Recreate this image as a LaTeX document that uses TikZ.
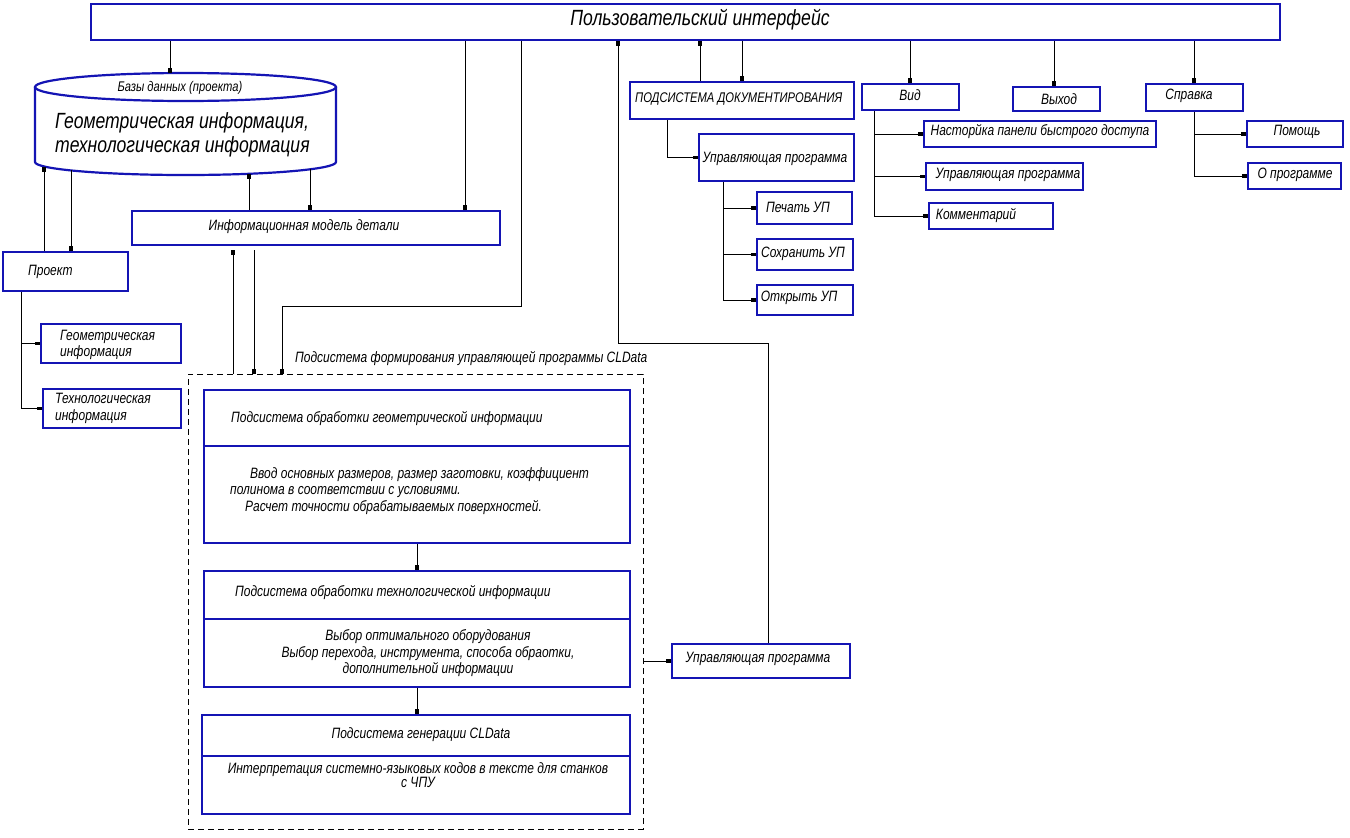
\documentclass[tikz,border=0pt]{standalone}
\usepackage{fontspec}
\newfontfamily\gost{Liberation Sans}[FakeStretch=0.8]
\usetikzlibrary{arrows.meta,calc}
\definecolor{boxblue}{RGB}{20,20,180}
\begin{document}
\begin{tikzpicture}[x=1pt,y=-1pt,
  box/.style={draw=boxblue, line width=2.2pt, inner sep=0pt},
  conn/.style={draw=black, line width=1pt},
  arr/.style={conn, -{Rectangle[length=5pt,width=3.5pt]}},
  txt/.style={font=\gost\itshape\fontsize{15}{16.5}\selectfont, inner sep=0pt},
  small/.style={font=\gost\itshape\fontsize{14}{16}\selectfont, inner sep=0pt},
]
\useasboundingbox[fill=white] (0,0) rectangle (1350,838);

% ---------- top bar ----------
\node[box, minimum width=1189, minimum height=36] (ui) at (685.5,22) {};
\node[txt, font=\gost\itshape\fontsize{22}{26}\selectfont] (uit) at (700,20) {Пользовательский интерфейс};

% ---------- database cylinder ----------
\draw[box] (185.5,87) ellipse[x radius=150.5pt, y radius=14pt];
\draw[box] (35,87) -- (35,162) arc[start angle=180, end angle=360, x radius=150.5pt, y radius=13pt] -- (336,87);
\node[inner sep=0pt, minimum width=301, minimum height=103] (db) at (185.5,124) {};
\node[small] (dbt) at (180,88) {Базы данных (проекта)};
\node[txt, font=\gost\itshape\fontsize{22}{24}\selectfont, align=left, anchor=west] (dbb) at (55,135)
  {Геометрическая информация,\\технологическая информация};
\coordinate (db1) at (170,73);
\coordinate (db2) at (44,167);
\coordinate (db3) at (71,170);
\coordinate (db4) at (249,174);
\coordinate (db5) at (310,169);

% ---------- left boxes ----------
\node[box, minimum width=125, minimum height=39] (proj) at (65.5,271.5) {};
\node[txt, anchor=west] (projt) at (28,272) {Проект};
\node[box, minimum width=140, minimum height=39] (geo) at (111,343.5) {};
\node[txt, align=left, anchor=west] (geot) at (60,345) {Геометрическая\\информация};
\node[box, minimum width=138, minimum height=39] (teh) at (112,408.5) {};
\node[txt, align=left, anchor=west] (teht) at (55,408.5) {Технологическая\\информация};

\node[box, minimum width=368, minimum height=34] (im) at (316,228) {};
\node[txt] (imt) at (304,227) {Информационная модель детали};

% ---------- documentation subsystem ----------
\node[box, minimum width=224, minimum height=37] (doc) at (742,100.5) {};
\node[small, anchor=west] (doct) at (635,99) {ПОДСИСТЕМА ДОКУМЕНТИРОВАНИЯ};
\node[box, minimum width=155, minimum height=47] (dup) at (776.5,157.5) {};
\node[txt] (dupt) at (775,159) {Управляющая программа};
\node[box, minimum width=95, minimum height=32] (pec) at (804.5,208) {};
\node[txt] (pect) at (798,207) {Печать УП};
\node[box, minimum width=96, minimum height=31] (sav) at (805,254.5) {};
\node[txt] (savt) at (803,254) {Сохранить УП};
\node[box, minimum width=96, minimum height=30] (opn) at (805,300) {};
\node[txt] (opnt) at (799,298) {Открыть УП};

% ---------- menus ----------
\node[box, minimum width=97, minimum height=26] (vid) at (910.5,97) {};
\node[txt] (vidt) at (910,95) {Вид};
\node[box, minimum width=87, minimum height=24] (vyh) at (1056.5,99) {};
\node[txt] (vyht) at (1059,99) {Выход};
\node[box, minimum width=97, minimum height=27] (spr) at (1194.5,97.5) {};
\node[txt] (sprt) at (1189,96) {Справка};

\node[box, minimum width=232, minimum height=26] (nas) at (1040,134) {};
\node[txt] (nast) at (1040,132) {Насторйка панели быстрого доступа};
\node[box, minimum width=157, minimum height=27] (vup) at (1004.5,176.5) {};
\node[txt] (vupt) at (1008,175) {Управляющая программа};
\node[box, minimum width=124, minimum height=26] (kom) at (991,216) {};
\node[txt] (komt) at (976,216) {Комментарий};

\node[box, minimum width=96, minimum height=26] (pom) at (1295,134) {};
\node[txt] (pomt) at (1297,132) {Помощь};
\node[box, minimum width=93, minimum height=26] (opr) at (1294.5,176) {};
\node[txt] (oprt) at (1295,175) {О программе};

% ---------- CLData subsystem ----------
\node[draw=black, line width=1pt, dash pattern=on 6pt off 4pt, minimum width=455, minimum height=455, inner sep=0pt] (cl) at (415.5,601.5) {};
\node[txt, anchor=west] (clt) at (295,359) {Подсистема формирования управляющей программы CLData};

\node[box, minimum width=426, minimum height=153] (b1) at (417,466.5) {};
\coordinate (d1) at (0,446);
\draw[box] (b1.west |- d1) -- (b1.east |- d1);
\node[txt, anchor=west] (b1t) at (231,419) {Подсистема обработки геометрической информации};
\node[txt, align=left, anchor=west] (b1b) at (230,491)
  {\hspace*{20pt}Ввод основных размеров, размер заготовки, коэффициент\\полинома в соответствии с условиями.\\\hspace*{15pt}Расчет точности обрабатываемых поверхностей.};

\node[box, minimum width=426, minimum height=116] (b2) at (417,629) {};
\coordinate (d2) at (0,619);
\draw[box] (b2.west |- d2) -- (b2.east |- d2);
\node[txt, anchor=west] (b2t) at (235,593) {Подсистема обработки технологической информации};
\node[txt, align=center] (b2b) at (428,653.5)
  {Выбор оптимального оборудования\\Выбор перехода, инструмента, способа обраотки,\\дополнительной информации};

\node[box, minimum width=428, minimum height=99] (b3) at (416,764.5) {};
\coordinate (d3) at (0,756);
\draw[box] (b3.west |- d3) -- (b3.east |- d3);
\node[txt] (b3t) at (421,735) {Подсистема генерации CLData};
\node[txt, align=center, font=\gost\itshape\fontsize{15}{14.5}\selectfont] (b3b) at (418,775)
  {Интерпретация системно-языковых кодов в тексте для станков\\с ЧПУ};

\node[box, minimum width=178, minimum height=34] (bup) at (761,661) {};
\node[txt] (bupt) at (758,659) {Управляющая программа};

% ---------- connectors ----------
\draw[arr] (ui.south -| db1) -- (db1);
\draw[arr] (proj.north -| db2) -- (db2);
\draw[arr] (db3) -- (proj.north -| db3);
\draw[arr] (im.north -| db4) -- (db4);
\draw[arr] (db5) -- (im.north -| db5);
\coordinate (x465) at (465,0);
\draw[arr] (ui.south -| x465) -- (im.north -| x465);

\coordinate (x21) at (21,0);
\draw[arr] (proj.south -| x21) |- (geo.west);
\draw[arr] (proj.south -| x21) |- (teh.west);

\coordinate (x233) at (233,250);
\coordinate (x254) at (254,250);
\draw[arr] (cl.north -| x233) -- (x233);
\draw[arr] (x254) -- (cl.north -| x254);
\coordinate (bend1) at (521,306);
\coordinate (bend2) at (282,306);
\draw[arr] (ui.south -| bend1) -- (bend1) -- (bend2) -- (cl.north -| bend2);

\coordinate (x700) at (700,0);
\coordinate (x742) at (742,0);
\draw[arr] (doc.north -| x700) -- (ui.south -| x700);
\draw[arr] (ui.south -| x742) -- (doc.north -| x742);
\coordinate (x667) at (667,0);
\draw[arr] (doc.south -| x667) |- (dup.west);
\coordinate (x723) at (723,0);
\draw[arr] (dup.south -| x723) |- (pec.west);
\draw[arr] (dup.south -| x723) |- (sav.west);
\draw[arr] (dup.south -| x723) |- (opn.west);

\coordinate (x910) at (910,0);
\coordinate (x1054) at (1054,0);
\coordinate (x1194) at (1194,0);
\draw[arr] (ui.south -| x910) -- (vid.north -| x910);
\draw[arr] (ui.south -| x1054) -- (vyh.north -| x1054);
\draw[arr] (ui.south -| x1194) -- (spr.north -| x1194);
\coordinate (x874) at (874,0);
\draw[arr] (vid.south -| x874) |- (nas.west);
\draw[arr] (vid.south -| x874) |- (vup.west);
\draw[arr] (vid.south -| x874) |- (kom.west);
\draw[arr] (spr.south -| x1194) |- (pom.west);
\draw[arr] (spr.south -| x1194) |- (opr.west);

\draw[arr] (b1.south) -- (b2.north);
\draw[arr] (b2.south) -- (b2.south |- b3.north);
\draw[arr] (cl.east |- bup.west) -- (bup.west);
\coordinate (bend3) at (768,343);
\coordinate (bend4) at (618,343);
\draw[arr] (bup.north -| bend3) -- (bend3) -- (bend4) -- (ui.south -| bend4);
\end{tikzpicture}
\end{document}
